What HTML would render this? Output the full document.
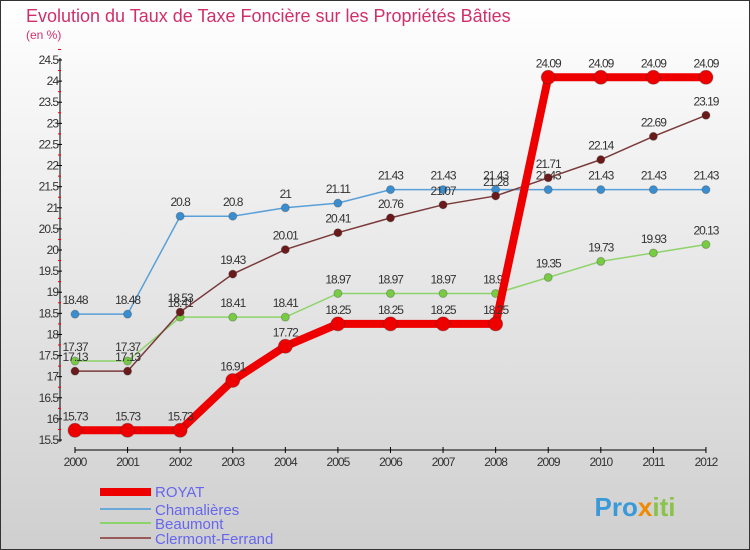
<!DOCTYPE html>
<html><head><meta charset="utf-8"><style>
body{margin:0;}
#c{width:750px;height:550px;position:relative;overflow:hidden;font-family:"Liberation Sans",sans-serif;}
</style></head><body>
<div id="c">
<svg id="s" width="750" height="550" xmlns="http://www.w3.org/2000/svg">
<defs><linearGradient id="bg" x1="0" y1="0" x2="0" y2="1"><stop offset="0" stop-color="#ffffff"/><stop offset="1" stop-color="#cfcfcf"/></linearGradient></defs>
<rect x="0.5" y="0.5" width="749" height="549" fill="url(#bg)" stroke="#333"/>
<text x="26" y="22" font-size="18" fill="#d0306a">Evolution du Taux de Taxe Foncière sur les Propriétés Bâties</text>
<text x="26" y="39" font-size="12" fill="#d0306a">(en %)</text>
<g id="g"></g>
<g>
<rect x="100" y="488" width="51" height="8" fill="#ee0000"/>
<text x="155" y="497" font-size="15" fill="#6666ee">ROYAT</text>
<rect x="100" y="508" width="51" height="2" fill="#6aa8d8"/>
<text x="155" y="515" font-size="15" fill="#6666ee">Chamalières</text>
<rect x="100" y="522" width="51" height="2" fill="#8ed36a"/>
<text x="155" y="529" font-size="15" fill="#6666ee">Beaumont</text>
<rect x="100" y="537" width="51" height="2" fill="#9a5a5a"/>
<text x="155" y="544" font-size="15" fill="#6666ee">Clermont-Ferrand</text>
</g>
<text x="635" y="516" font-size="26" font-weight="bold" text-anchor="middle" fill="#3a9ad9">Pro<tspan fill="#f08a00">x</tspan><tspan fill="#8bc34a">iti</tspan></text>
</svg>
</div>
<script>
const years=[2000,2001,2002,2003,2004,2005,2006,2007,2008,2009,2010,2011,2012];
const royat=[15.73,15.73,15.73,16.91,17.72,18.25,18.25,18.25,18.25,24.09,24.09,24.09,24.09];
const chamalieres=[18.48,18.48,20.8,20.8,21,21.11,21.43,21.43,21.43,21.43,21.43,21.43,21.43];
const beaumont=[17.37,17.37,18.41,18.41,18.41,18.97,18.97,18.97,18.97,19.35,19.73,19.93,20.13];
const clermont=[17.13,17.13,18.53,19.43,20.01,20.41,20.76,21.07,21.28,21.71,22.14,22.69,23.19];
const yTicks=[15.5,16,16.5,17,17.5,18,18.5,19,19.5,20,20.5,21,21.5,22,22.5,23,23.5,24,24.5];
const NS="http://www.w3.org/2000/svg";
const g=document.getElementById('g');
const X=i=>75+i*52.58;
const Y=v=>440-(v-15.5)*(380/9);
function mk(t,a){const e=document.createElementNS(NS,t);for(const k in a)e.setAttribute(k,a[k]);g.appendChild(e);return e;}
let e=mk('line',{x1:60,y1:58,x2:60,y2:442,stroke:'#000'});


e=mk('line',{x1:75,y1:450,x2:X(12),y2:450,stroke:'#000'});


yTicks.forEach(v=>{
 mk('line',{x1:57,x2:62,y1:Y(v),y2:Y(v),stroke:'#000'});
 mk('line',{x1:58,x2:61,y1:Y(v+0.25),y2:Y(v+0.25),stroke:'#e00'});
 const t=mk('text',{x:58,y:Y(v)+4,'font-size':12,'text-anchor':'end',fill:'#333','letter-spacing':'-1'});
 t.textContent=v;
 
 
});
years.forEach((yr,i)=>{
 mk('line',{x1:X(i),x2:X(i),y1:447,y2:453,stroke:'#000'});
 const t=mk('text',{x:X(i),y:466,'font-size':12,'text-anchor':'middle',fill:'#333','letter-spacing':'-1'});
 t.textContent=yr;
 
 
});
function series(vals,color,dot,w,r,name){
 const p=mk('polyline',{points:vals.map((v,i)=>X(i)+','+Y(v)).join(' '),fill:'none',stroke:color,'stroke-width':w});
 
 
 vals.forEach((v,i)=>{
  const c=mk('circle',{cx:X(i),cy:Y(v),r:r,fill:dot,stroke:'#333','stroke-opacity':0.3});
  
  
  const t=mk('text',{x:X(i),y:Y(v)-10,'font-size':12,'text-anchor':'middle',fill:'#333','letter-spacing':'-1'});
  t.textContent=v;
  
  
 });
}
series(chamalieres,'#5aa0d8','#3a8ed0',1.5,4,'chamalieres');
series(beaumont,'#8ed36a','#77cc44',1.5,4,'beaumont');
series(clermont,'#7a3a3a','#6a1a1a',1.5,4,'clermont-ferrand');
series(royat,'#ee0000','#ee0000',8,7,'royat');
</script>
</body></html>
